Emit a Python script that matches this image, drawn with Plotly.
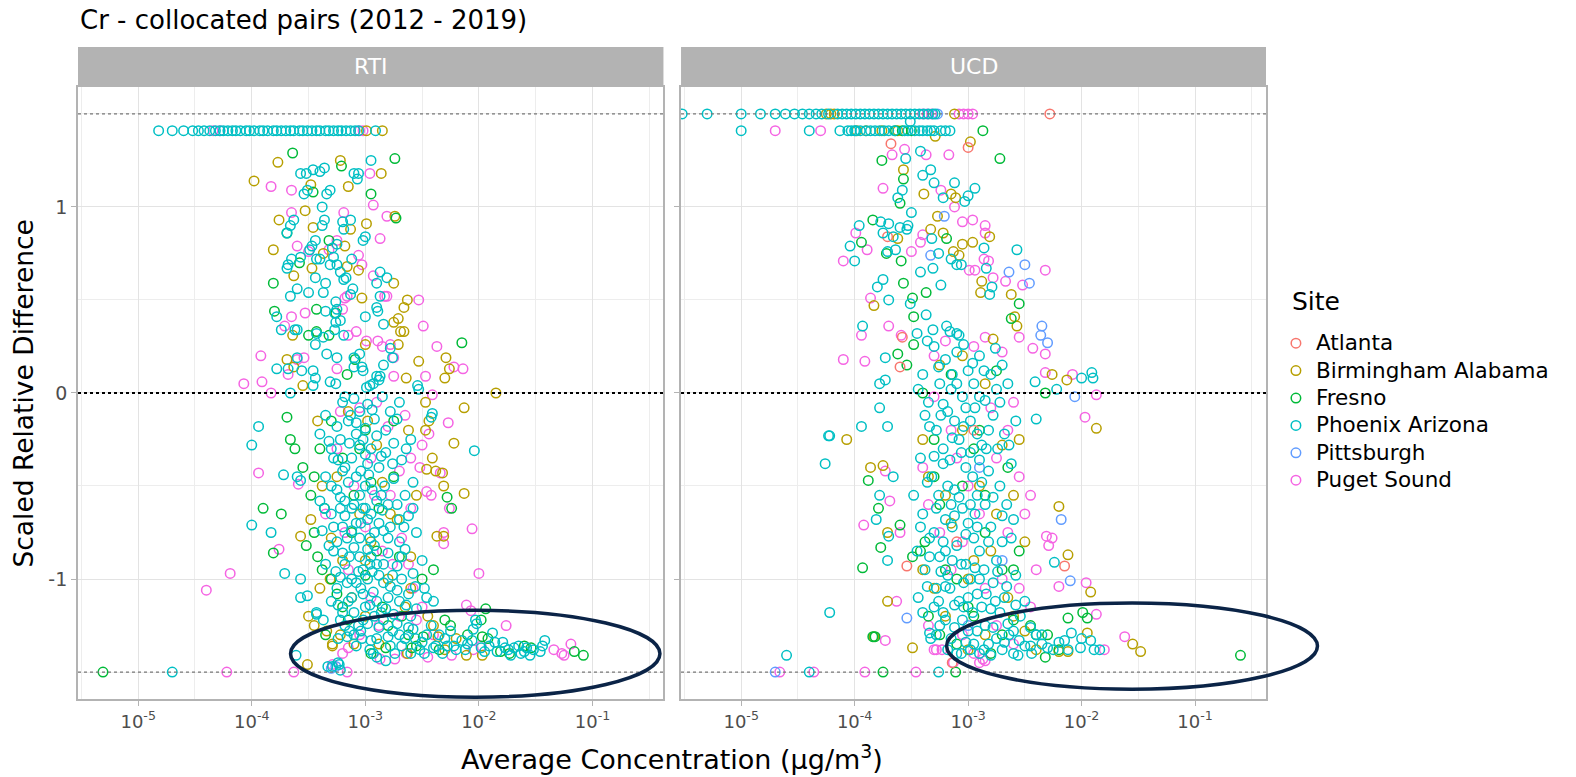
import plotly.graph_objects as go

# site colours (ggplot default hue palette)
SITES = ["Atlanta", "Birmingham Alabama", "Fresno", "Phoenix Arizona", "Pittsburgh", "Puget Sound"]
COLORS = {
    "Atlanta": "#F8766D",
    "Birmingham Alabama": "#B79F00",
    "Fresno": "#00BA38",
    "Phoenix Arizona": "#00BFC4",
    "Pittsburgh": "#619CFF",
    "Puget Sound": "#F564E3",
}

# points are (log10 of average concentration, scaled relative difference)

# ---------------- RTI ----------------
rti_phoenix = [
    (-4.82, 1.41), (-4.70, 1.41), (-4.60, 1.41), (-4.52, 1.41), (-4.47, 1.41), (-4.42, 1.41), (-4.37, 1.41),
    (-4.32, 1.41), (-4.28, 1.41), (-4.25, 1.41), (-4.21, 1.41), (-4.17, 1.41), (-4.14, 1.41), (-4.10, 1.41),
    (-4.05, 1.41), (-4.02, 1.41), (-3.98, 1.41), (-3.93, 1.41), (-3.90, 1.41), (-3.86, 1.41), (-3.81, 1.41),
    (-3.78, 1.41), (-3.74, 1.41), (-3.70, 1.41), (-3.66, 1.41), (-3.63, 1.41), (-3.58, 1.41), (-3.55, 1.41),
    (-3.51, 1.41), (-3.47, 1.41), (-3.43, 1.41), (-3.40, 1.41), (-3.35, 1.41), (-3.32, 1.41), (-3.28, 1.41),
    (-3.24, 1.41), (-3.21, 1.41), (-3.17, 1.41), (-3.13, 1.41), (-3.09, 1.41), (-3.06, 1.41), (-2.91, 1.41),
    (-2.95, 1.25), (-3.57, 1.18), (-3.52, 1.18), (-3.46, 1.20), (-3.40, 1.19), (-3.36, 1.21), (-3.10, 1.18),
    (-3.06, 1.18), (-3.07, 1.15), (-3.54, 1.07), (-3.51, 1.09), (-3.34, 1.07), (-3.31, 1.09), (-3.38, 1.00),
    (-3.63, 0.93), (-3.66, 0.90), (-3.69, 0.86), (-3.38, 0.90), (-3.36, 0.93), (-3.20, 0.92), (-3.13, 0.93),
    (-3.19, 0.88), (-3.44, 0.82), (-3.47, 0.79), (-3.49, 0.77), (-3.57, 0.73), (-3.65, 0.72), (-3.68, 0.69),
    (-3.69, 0.67), (-3.25, 0.80), (-3.29, 0.78), (-3.28, 0.73), (-3.31, 0.69), (-3.25, 0.69), (-3.02, 0.82),
    (-3.00, 0.84), (-3.12, 0.72), (-3.43, 0.72), (-3.40, 0.72), (-3.22, 0.65), (-3.19, 0.61), (-3.17, 0.62),
    (-3.44, 0.62), (-3.35, 0.59), (-2.87, 0.65), (-2.81, 0.62), (-2.90, 0.59), (-3.60, 0.56), (-3.66, 0.52),
    (-3.50, 0.54), (-3.37, 0.54), (-3.11, 0.56), (-3.13, 0.53), (-2.87, 0.52), (-3.26, 0.49), (-3.25, 0.45),
    (-3.35, 0.44), (-3.27, 0.43), (-2.90, 0.46), (-2.89, 0.44), (-3.00, 0.41), (-2.84, 0.37), (-3.78, 0.41),
    (-3.74, 0.34), (-3.62, 0.34), (-3.60, 0.34), (-3.26, 0.38), (-3.22, 0.39), (-3.27, 0.34), (-3.19, 0.31),
    (-3.43, 0.32), (-3.44, 0.26), (-3.37, 0.30), (-3.34, 0.21), (-3.25, 0.19), (-3.10, 0.19), (-3.05, 0.21),
    (-2.78, 0.24), (-2.76, 0.19), (-2.84, 0.15), (-2.90, 0.09), (-3.10, 0.14), (-3.03, 0.14), (-3.02, 0.12),
    (-3.78, 0.13), (-3.68, 0.13), (-3.60, 0.19), (-3.56, 0.12), (-3.46, 0.12), (-3.44, 0.08), (-3.46, 0.04),
    (-3.31, 0.06), (-3.26, 0.05), (-2.99, 0.03), (-2.96, 0.04), (-2.93, 0.05), (-2.88, 0.07), (-2.87, 0.09),
    (-2.54, 0.04), (-2.53, 0.02), (-3.66, 0.00), (-3.94, -0.18), (-4.00, -0.28), (-3.72, -0.44), (-3.60, -0.45),
    (-3.57, -0.47), (-4.00, -0.71), (-3.83, -0.75), (-3.71, -0.97), (-3.57, -1.00), (-3.57, -1.10), (-3.51, -1.09),
    (-3.43, -1.18), (-3.37, -1.22), (-2.04, -0.31), (-2.41, -0.11), (-2.42, -0.13),
    (-3.20, -0.05), (-3.10, -0.03), (-3.05, -0.10), (-2.98, -0.06), (-2.92, -0.14), (-2.85, -0.02), (-3.25, -0.18),
    (-3.15, -0.15), (-2.78, -0.10), (-2.70, -0.05), (-3.35, -0.12), (-3.00, -0.19), (-3.40, -0.22), (-3.30, -0.30),
    (-3.22, -0.25), (-3.12, -0.35), (-3.05, -0.28), (-2.98, -0.38), (-2.90, -0.23), (-2.82, -0.32), (-2.75, -0.27),
    (-2.68, -0.36), (-3.18, -0.40), (-2.95, -0.30), (-3.08, -0.22), (-2.60, -0.25), (-3.35, -0.45), (-3.25, -0.52),
    (-3.15, -0.48), (-3.05, -0.55), (-2.97, -0.44), (-2.90, -0.58), (-2.83, -0.50), (-2.75, -0.46), (-2.65, -0.55),
    (-3.10, -0.60), (-3.20, -0.42), (-3.00, -0.50), (-2.58, -0.48), (-3.40, -0.58), (-3.30, -0.65), (-3.20, -0.72),
    (-3.12, -0.62), (-3.05, -0.78), (-2.98, -0.68), (-2.92, -0.75), (-2.85, -0.63), (-2.78, -0.72), (-2.70, -0.80),
    (-2.62, -0.66), (-3.25, -0.80), (-3.00, -0.62), (-2.88, -0.70), (-3.38, -0.74), (-2.55, -0.75), (-3.28, -0.85),
    (-3.18, -0.92), (-3.10, -0.83), (-3.02, -0.95), (-2.95, -0.88), (-2.88, -0.98), (-2.80, -0.86), (-2.72, -0.93),
    (-2.65, -0.84), (-2.58, -0.97), (-3.22, -0.99), (-3.05, -0.88), (-2.92, -0.82), (-2.50, -0.90), (-3.35, -0.92),
    (-3.25, -1.05), (-3.15, -1.12), (-3.08, -1.02), (-3.00, -1.15), (-2.93, -1.07), (-2.86, -1.18), (-2.78, -1.04),
    (-2.70, -1.12), (-2.62, -1.08), (-2.55, -1.16), (-2.48, -1.05), (-3.20, -1.18), (-3.02, -1.08), (-2.90, -1.12),
    (-2.40, -1.12), (-3.30, -1.12), (-2.75, -1.19), (-3.18, -1.25), (-3.10, -1.30), (-3.02, -1.22), (-2.95, -1.33),
    (-2.88, -1.26), (-2.80, -1.31), (-2.72, -1.24), (-2.65, -1.32), (-2.58, -1.27), (-2.50, -1.34), (-2.42, -1.25),
    (-2.35, -1.30), (-2.25, -1.28), (-2.15, -1.33),
    (-3.13, -0.12), (-3.02, -0.25), (-2.88, -0.40), (-3.18, -0.58), (-2.95, -0.65), (-3.08, -0.70), (-2.80, -0.78),
    (-3.14, -0.88), (-2.98, -1.00), (-2.84, -0.92), (-3.12, -1.00), (-2.68, -1.00), (-3.06, -1.25), (-2.92, -1.20),
    (-2.76, -1.28), (-2.60, -1.20), (-3.28, -0.35), (-3.22, -0.62), (-3.16, -0.78), (-2.86, -0.55), (-2.72, -0.60),
    (-2.96, -0.92), (-3.04, -0.42), (-2.80, -1.10), (-3.10, -1.18), (-2.68, -1.36), (-2.96, -1.38), (-2.52, -1.38),
    (-2.32, -1.40), (-2.20, -1.38),
    (-3.18, -0.02), (-3.08, -0.16), (-2.94, -0.09), (-2.82, -0.20), (-2.72, -0.14), (-3.32, -0.26), (-3.24, -0.36),
    (-2.86, -0.34), (-2.64, -0.30), (-3.00, -0.33), (-3.14, -0.27), (-2.76, -0.38), (-3.30, -0.50), (-3.22, -0.56),
    (-3.08, -0.45), (-3.02, -0.62), (-2.94, -0.52), (-2.80, -0.60), (-2.70, -0.68), (-3.28, -0.72), (-3.12, -0.74),
    (-2.96, -0.78), (-2.84, -0.74), (-2.66, -0.72), (-3.36, -0.62), (-2.58, -0.62), (-3.18, -0.66), (-3.04, -0.70),
    (-3.32, -0.82), (-3.20, -0.86), (-3.06, -0.96), (-2.98, -0.84), (-2.90, -0.92), (-2.76, -0.98), (-2.68, -0.88),
    (-3.26, -0.96), (-3.16, -1.02), (-3.04, -1.05), (-2.96, -1.14), (-2.84, -1.02), (-2.72, -1.06), (-2.64, -1.14),
    (-3.24, -1.14), (-3.12, -1.10), (-2.94, -0.96), (-2.56, -1.04), (-2.46, -1.10), (-2.82, -1.16), (-3.22, -1.22),
    (-3.14, -1.28), (-3.04, -1.28), (-2.98, -1.24), (-2.90, -1.32), (-2.84, -1.22), (-2.78, -1.36), (-2.70, -1.30),
    (-2.62, -1.26), (-2.56, -1.32), (-2.46, -1.30), (-2.38, -1.36), (-2.30, -1.32), (-2.22, -1.36), (-2.12, -1.38),
    (-2.06, -1.33), (-1.98, -1.37), (-1.84, -1.39), (-1.74, -1.38), (-1.58, -1.37), (-2.90, -1.42), (-3.08, -1.36),
    (-2.74, -1.40), (-2.48, -1.40),
    (-1.42, -1.33), (-1.44, -1.36), (-1.46, -1.39), (-1.52, -1.38), (-1.60, -1.39), (-1.63, -1.40), (-1.69, -1.37),
    (-1.77, -1.37), (-1.86, -1.34), (-1.91, -1.36), (-1.79, -1.34), (-1.88, -1.29), (-2.03, -1.22), (-2.02, -1.24),
    (-2.05, -1.27), (-2.40, -1.37), (-2.28, -1.36), (-2.82, -1.44), (-2.93, -1.40), (-3.24, -1.32), (-3.16, -1.31),
    (-3.03, -1.32), (-3.61, -1.41), (-3.43, -1.19), (-2.10, -1.35), (-1.55, -1.41), (-1.72, -1.41), (-1.95, -1.39),
    (-1.65, -1.36), (-2.60, -1.40),
    (-4.70, -1.50), (-3.33, -1.47), (-3.23, -1.46), (-3.22, -1.49), (-3.24, -1.45), (-3.29, -1.47),
]
rti_puget = [
    (-4.34, 1.41), (-4.28, 1.41), (-3.05, 1.41), (-3.02, 1.41), (-2.96, 1.18), (-3.65, 1.09), (-3.83, 1.11),
    (-2.93, 1.01), (-3.65, 0.97), (-3.19, 0.97), (-2.81, 0.95), (-2.87, 0.83), (-3.60, 0.79), (-3.25, 0.82),
    (-3.32, 0.77), (-3.50, 0.76), (-3.06, 0.74), (-3.03, 0.69), (-2.93, 0.63), (-3.16, 0.52), (-3.18, 0.51),
    (-2.83, 0.52), (-2.81, 0.52), (-2.53, 0.50), (-3.65, 0.41), (-3.53, 0.43), (-3.20, 0.45), (-3.71, 0.36),
    (-2.49, 0.36), (-3.08, 0.33), (-3.15, 0.31), (-2.99, 0.28), (-2.89, 0.28), (-2.85, 0.25), (-2.78, 0.26),
    (-2.75, 0.19), (-2.37, 0.25), (-2.14, 0.13), (-2.22, 0.14), (-4.07, 0.05), (-3.68, 0.10), (-3.60, 0.18),
    (-3.54, 0.19), (-3.25, 0.13), (-2.75, 0.09), (-2.47, 0.09), (-3.92, 0.20), (-3.91, 0.06),
    (-3.83, 0.00), (-2.41, -0.01), (-3.94, -0.43), (-2.27, -0.16), (-3.59, -0.49), (-3.76, -0.84), (-4.19, -0.97),
    (-4.40, -1.06), (-3.15, -1.37), (-4.22, -1.50), (-3.63, -1.50), (-3.16, -1.50), (-3.29, -1.46), (-2.06, -0.73),
    (-2.00, -0.97), (-2.31, -0.81), (-2.31, -0.75), (-2.34, -0.43), (-2.46, -0.53), (-2.42, -0.55), (-2.26, -0.62),
    (-2.44, -0.22), (-2.50, -0.28),
    (-1.19, -1.35), (-1.27, -1.40), (-1.25, -1.41), (-1.34, -1.38), (-1.76, -1.25), (-1.98, -1.36), (-2.05, -1.38),
    (-2.24, -1.41), (-2.45, -1.42), (-2.74, -1.43), (-2.87, -1.43), (-2.11, -1.14), (-2.07, -1.17),
    (-3.05, -0.08), (-2.80, -0.18), (-2.65, -0.12), (-3.25, -0.30), (-2.95, -0.35), (-2.70, -0.42), (-3.10, -0.50),
    (-2.78, -0.55), (-2.60, -0.62), (-3.00, -0.72), (-2.68, -0.78), (-3.15, -0.95), (-2.85, -0.85), (-2.62, -0.92),
    (-2.95, -1.10), (-2.70, -1.20), (-3.05, -1.30), (-2.55, -1.22), (-2.40, -1.30), (-3.35, -0.65), (-2.52, -0.40),
    (-2.58, -1.05), (-3.22, -0.10), (-2.90, -0.05), (-2.60, -0.35), (-3.18, -0.75), (-2.76, -0.92), (-2.88, -1.25),
    (-2.50, -1.15), (-3.20, -1.40), (-2.64, -1.40), (-2.92, -0.55),
]
rti_birmingham = [
    (-2.99, 1.41), (-2.85, 1.41), (-3.98, 1.14), (-3.77, 1.24), (-3.22, 1.25), (-2.86, 1.18), (-3.48, 1.12),
    (-3.15, 1.11), (-3.53, 0.98), (-3.76, 0.93), (-3.46, 0.89), (-3.13, 0.88), (-2.99, 0.91), (-2.74, 0.95),
    (-3.81, 0.77), (-3.18, 0.79), (-3.37, 0.75), (-3.16, 0.68), (-3.06, 0.66), (-3.47, 0.67), (-3.63, 0.63),
    (-2.75, 0.59), (-3.03, 0.51), (-2.63, 0.50), (-2.66, 0.46), (-2.71, 0.40), (-2.75, 0.38), (-2.69, 0.33),
    (-2.66, 0.33), (-3.64, 0.31), (-3.00, 0.26), (-2.71, 0.26), (-2.53, 0.17), (-2.29, 0.19), (-2.26, 0.13),
    (-2.30, 0.08), (-2.64, 0.08), (-3.69, 0.18), (-3.63, 0.14), (-3.55, 0.04), (-1.85, 0.00),
    (-2.13, -0.08), (-2.22, -0.27), (-3.31, -1.00), (-3.45, -1.25), (-3.34, -1.28), (-3.29, -1.35), (-3.51, -1.46),
    (-2.13, -0.54), (-2.31, -0.50), (-2.32, -0.43), (-2.38, -0.42), (-2.41, -0.35), (-2.46, -0.41), (-2.37, -0.77),
    (-2.31, -0.77), (-2.47, -0.05), (-2.44, -0.15), (-2.47, -0.20), (-1.97, -1.41), (-2.11, -1.41), (-2.63, -1.40),
    (-2.36, -1.31), (-3.29, -1.36), (-3.50, -1.20), (-3.57, -0.77), (-3.48, -0.68),
    (-3.15, -0.10), (-2.90, -0.28), (-2.62, -0.20), (-3.25, -0.45), (-2.85, -0.48), (-2.55, -0.55), (-3.05, -0.65),
    (-2.72, -0.68), (-2.95, -0.80), (-2.60, -0.88), (-3.20, -0.90), (-2.80, -1.00), (-3.00, -1.20), (-2.65, -1.15),
    (-2.45, -1.20), (-3.10, -1.35), (-2.88, -1.35), (-2.20, -1.32), (-3.42, -0.15), (-3.38, -0.50), (-3.30, -0.78),
    (-3.40, -1.05), (-3.22, -1.30), (-3.00, -0.90), (-2.78, -0.65), (-2.60, -1.05), (-2.40, -1.25), (-2.30, -1.38),
    (-2.98, -0.15), (-3.12, -1.10),
]
rti_fresno = [
    (-3.64, 1.29), (-3.21, 1.22), (-2.74, 1.26), (-3.46, 1.08), (-2.95, 1.07), (-2.73, 0.94), (-3.69, 0.86),
    (-3.32, 0.82), (-3.58, 0.70), (-3.81, 0.59), (-3.80, 0.44), (-3.43, 0.45), (-3.26, 0.43), (-3.50, 0.31),
    (-3.43, 0.33), (-3.32, 0.31), (-2.15, 0.27), (-3.16, 0.10), (-3.09, 0.18),
    (-3.90, -0.62), (-3.74, -0.65), (-3.81, -0.86), (-2.28, -0.56), (-2.24, -0.62), (-1.08, -1.41), (-1.16, -1.39),
    (-1.60, -1.36), (-1.54, -1.37), (-1.73, -1.40), (-1.81, -1.39), (-1.92, -1.32), (-1.97, -1.31), (-1.94, -1.16),
    (-1.98, -1.22), (-2.59, -1.37), (-2.49, -1.31), (-2.95, -1.40), (-2.82, -1.37), (-5.31, -1.50),
    (-3.69, -0.13), (-3.66, -0.25), (-3.62, -0.30), (-3.55, -0.40), (-3.48, -0.55), (-3.45, -0.75), (-3.52, -0.82),
    (-3.30, -0.15), (-3.00, -0.20), (-2.75, -0.15), (-3.20, -0.35), (-2.88, -0.62), (-3.12, -0.75), (-2.70, -0.88),
    (-3.00, -0.98), (-3.25, -1.08), (-2.85, -1.15), (-2.50, -1.00), (-3.15, -1.22), (-2.62, -1.30), (-2.30, -1.22),
    (-2.10, -1.30), (-3.38, -0.95), (-2.95, -0.48), (-2.40, -0.95), (-3.40, -0.30), (-3.36, -0.62), (-3.42, -0.88),
    (-3.30, -1.00), (-3.20, -1.15), (-3.10, -0.55), (-2.90, -0.85), (-2.80, -1.25), (-2.68, -1.20), (-2.55, -1.36),
    (-2.35, -1.38), (-2.25, -1.25), (-3.35, -1.30), (-3.05, -0.30), (-2.75, -0.45), (-3.45, -0.45),
]
rti_pittsburgh = [(-3.30, -1.48), (-3.26, -1.47)]
rti_atlanta = []

# ---------------- UCD ----------------
ucd_phoenix = [
    (-5.52, 1.50), (-5.30, 1.50), (-5.00, 1.50), (-4.83, 1.50), (-4.70, 1.50), (-4.61, 1.50), (-4.53, 1.50),
    (-4.46, 1.50), (-4.40, 1.50), (-4.34, 1.50), (-4.29, 1.50), (-4.23, 1.50), (-4.15, 1.50), (-4.11, 1.50),
    (-4.07, 1.50), (-4.03, 1.50), (-3.99, 1.50), (-3.95, 1.50), (-3.91, 1.50), (-3.87, 1.50), (-3.83, 1.50),
    (-3.79, 1.50), (-3.75, 1.50), (-3.71, 1.50), (-3.67, 1.50), (-3.63, 1.50), (-3.59, 1.50), (-3.55, 1.50),
    (-3.51, 1.50), (-3.47, 1.50), (-3.43, 1.50), (-3.39, 1.50), (-3.35, 1.50), (-3.31, 1.50), (-3.29, 1.50),
    (-5.00, 1.41), (-4.40, 1.41), (-4.13, 1.41), (-4.06, 1.41), (-4.03, 1.41), (-3.99, 1.41), (-3.90, 1.41),
    (-3.86, 1.41), (-3.82, 1.41), (-3.65, 1.41), (-3.47, 1.41), (-3.43, 1.41), (-3.40, 1.41), (-3.36, 1.41),
    (-3.30, 1.41), (-3.24, 1.41), (-3.51, 1.46), (-4.00, 1.41), (-3.95, 1.41), (-3.78, 1.41), (-3.74, 1.41),
    (-3.70, 1.41), (-3.56, 1.41), (-3.53, 1.41), (-3.33, 1.41), (-3.20, 1.41), (-3.16, 1.41),
    (-3.42, 1.30), (-3.55, 1.26), (-3.33, 1.20), (-3.40, 1.17), (-3.30, 1.13), (-3.12, 1.13), (-3.58, 1.09),
    (-3.62, 1.05), (-3.22, 1.05), (-3.03, 1.03), (-3.00, 1.06), (-2.94, 1.10),
    (-3.96, 0.90), (-4.04, 0.79), (-4.00, 0.71), (-3.77, 0.92), (-3.70, 0.91), (-3.75, 0.86), (-3.66, 0.84),
    (-3.60, 0.89), (-3.54, 0.88), (-3.53, 0.90), (-3.64, 0.77), (-3.71, 0.76), (-3.50, 0.97), (-3.32, 0.83),
    (-3.26, 0.75), (-3.15, 0.72), (-3.10, 0.69), (-3.06, 0.69), (-3.31, 0.67), (-3.42, 0.65), (-3.24, 0.58),
    (-3.80, 0.57), (-3.75, 0.61), (-3.70, 0.50), (-2.86, 0.78), (-2.57, 0.77), (-2.79, 0.57), (-2.81, 0.53),
    (-2.84, 0.67), (-3.93, 0.36), (-3.51, 0.48), (-3.45, 0.32), (-3.37, 0.42), (-3.31, 0.34), (-3.19, 0.36),
    (-3.16, 0.33), (-3.10, 0.32), (-3.08, 0.31), (-3.73, 0.19), (-3.78, 0.05), (-3.73, 0.07), (-3.78, -0.08),
    (-3.71, -0.18), (-3.94, -0.18), (-4.22, -0.23), (-2.00, 0.08), (-1.91, 0.11), (-1.90, 0.08), (-2.22, 0.02),
    (-2.41, 0.06), (-2.40, -0.14),
    (-4.23, -0.23), (-4.26, -0.38), (-4.60, -1.41), (-4.22, -1.18), (-3.66, -0.45), (-3.78, -0.55),
    (-3.81, -0.68), (-3.70, -0.77), (-3.71, -0.90), (-3.34, -1.29), (-3.33, -1.32), (-2.24, -0.91),
    (-2.09, -1.29), (-2.01, -1.37), (-1.92, -1.33), (-1.84, -1.38), (-1.89, -1.38), (-2.00, -1.32), (-2.15, -1.33),
    (-2.25, -1.38), (-2.35, -1.30), (-2.45, -1.36), (-4.40, -1.50), (-3.26, -1.50),
    (-3.30, 0.25), (-3.20, 0.18), (-3.10, 0.22), (-3.00, 0.12), (-2.90, 0.20), (-2.80, 0.10), (-2.70, 0.15),
    (-3.25, 0.05), (-3.15, 0.02), (-3.05, -0.02), (-2.95, 0.05), (-2.85, -0.04), (-2.75, 0.02), (-2.65, 0.05),
    (-3.40, 0.10), (-3.35, -0.05), (-3.38, -0.12), (-3.28, -0.20), (-3.18, -0.10), (-3.08, -0.25), (-2.98, -0.15),
    (-2.88, -0.28), (-2.78, -0.12), (-2.68, -0.22), (-3.22, -0.30), (-3.02, -0.08), (-2.92, -0.22), (-2.58, -0.15),
    (-3.42, -0.35), (-3.32, -0.45), (-3.22, -0.38), (-3.12, -0.52), (-3.02, -0.40), (-2.92, -0.55), (-2.82, -0.42),
    (-2.72, -0.50), (-2.62, -0.38), (-3.15, -0.60), (-2.98, -0.32), (-2.85, -0.60), (-3.48, -0.55), (-3.40, -0.65),
    (-3.30, -0.75), (-3.20, -0.68), (-3.10, -0.82), (-3.00, -0.70), (-2.90, -0.85), (-2.80, -0.72), (-2.70, -0.80),
    (-2.60, -0.68), (-3.25, -0.88), (-3.05, -0.62), (-2.95, -0.78), (-2.75, -0.90), (-3.45, -0.85), (-3.38, -0.95),
    (-3.28, -1.05), (-3.18, -0.98), (-3.08, -1.12), (-2.98, -1.00), (-2.88, -1.15), (-2.78, -1.02), (-2.68, -1.10),
    (-2.58, -0.98), (-3.22, -1.18), (-3.02, -0.92), (-2.92, -1.08), (-2.72, -1.18), (-2.50, -1.12), (-3.44, -1.10),
    (-3.25, -1.25), (-3.15, -1.32), (-3.05, -1.22), (-2.95, -1.35), (-2.85, -1.25), (-2.75, -1.32), (-2.65, -1.24),
    (-2.55, -1.33), (-2.45, -1.26), (-3.10, -1.40), (-2.90, -1.40), (-2.70, -1.38), (-2.60, -1.40), (-2.35, -1.35),
    (-3.12, -0.15), (-2.96, -0.45), (-3.06, -0.92), (-2.86, -0.95), (-3.16, -1.05), (-2.82, -1.35), (-3.00, -1.28),
    (-2.66, -0.60), (-3.26, -0.55), (-2.94, -0.65), (-3.14, -0.72), (-2.76, -1.12), (-3.04, -1.15), (-2.84, -0.30),
    (-3.20, -0.85), (-2.64, -1.30), (-3.30, -1.15), (-2.54, -1.20), (-3.18, -1.38), (-2.98, -1.38),
    (-3.36, 0.28), (-3.26, 0.14), (-3.14, 0.10), (-3.04, 0.26), (-2.96, 0.16), (-2.86, 0.12), (-2.76, 0.24),
    (-3.10, 0.05), (-2.90, -0.02), (-3.44, 0.02), (-2.72, -0.05), (-3.22, -0.06), (-3.34, -0.18), (-3.24, -0.12),
    (-3.14, -0.24), (-3.04, -0.18), (-2.94, -0.08), (-2.82, -0.20), (-2.74, -0.30), (-3.30, -0.34), (-3.16, -0.36),
    (-3.06, -0.32), (-2.90, -0.36), (-2.64, -0.28), (-3.36, -0.48), (-3.28, -0.62), (-3.18, -0.50), (-3.08, -0.56),
    (-2.98, -0.60), (-2.88, -0.48), (-2.78, -0.56), (-3.34, -0.78), (-3.22, -0.80), (-3.12, -0.66), (-3.02, -0.76),
    (-2.92, -0.72), (-2.82, -0.80), (-2.70, -0.66), (-3.42, -0.72), (-2.62, -0.78), (-3.34, -0.88), (-3.24, -0.96),
    (-3.14, -0.90), (-3.04, -1.02), (-2.94, -0.94), (-2.84, -1.08), (-2.74, -0.96), (-3.36, -1.04), (-3.26, -1.12),
    (-3.12, -1.14), (-3.00, -1.10), (-2.90, -1.00), (-2.80, -1.16), (-2.66, -1.04), (-2.58, -1.14), (-3.40, -1.18),
    (-2.96, -1.18), (-3.20, -1.04), (-3.28, -1.30), (-3.20, -1.22), (-3.12, -1.26), (-3.02, -1.34), (-2.92, -1.28),
    (-2.86, -1.38), (-2.78, -1.26), (-2.68, -1.34), (-2.60, -1.28), (-2.50, -1.36), (-2.40, -1.30), (-2.30, -1.37),
    (-2.20, -1.34), (-2.12, -1.38), (-3.06, -1.40), (-2.80, -1.41), (-2.56, -1.41), (-2.44, -1.40),
]
ucd_puget = [
    (-3.40, 1.50), (-3.36, 1.50), (-3.32, 1.50), (-3.08, 1.50), (-3.04, 1.50), (-3.00, 1.50), (-2.96, 1.50),
    (-4.70, 1.41), (-4.30, 1.41), (-3.56, 1.31), (-3.67, 1.28), (-3.37, 1.28), (-3.17, 1.28), (-3.75, 1.10),
    (-3.24, 1.09), (-3.12, 1.00), (-3.99, 0.86), (-4.10, 0.71), (-3.89, 0.77), (-3.40, 0.85), (-3.42, 0.81),
    (-3.50, 0.76), (-3.05, 0.92), (-2.96, 0.93), (-2.85, 0.90), (-2.85, 0.86), (-2.86, 0.72), (-2.82, 0.71),
    (-2.78, 0.62), (-2.99, 0.66), (-2.94, 0.66), (-2.67, 0.60), (-2.52, 0.58), (-2.32, 0.66), (-3.86, 0.51),
    (-3.94, 0.31), (-3.70, 0.36), (-3.59, 0.31), (-4.10, 0.18), (-3.91, 0.17), (-2.55, 0.30), (-2.43, 0.24),
    (-2.32, 0.21), (-2.32, 0.11), (-2.08, 0.10), (-1.97, -0.13), (-1.87, -0.01),
    (-3.73, -0.42), (-3.69, -0.58), (-3.92, -0.71), (-3.63, -1.12), (-3.73, -1.33), (-3.60, -0.75), (-3.35, -1.25),
    (-3.28, -1.38), (-3.23, -1.38), (-2.20, -1.04), (-1.96, -1.02), (-1.87, -1.19), (-2.31, -0.77), (-2.29, -0.82),
    (-2.26, -0.78), (-1.62, -1.31), (-1.80, -1.38),
    (-4.66, -1.50), (-4.36, -1.50), (-3.91, -1.50), (-3.46, -1.50), (-3.13, -1.45), (-2.87, -1.43), (-2.90, -1.45),
    (-2.85, -1.44),
    (-3.20, 0.28), (-2.95, 0.25), (-2.70, 0.22), (-3.30, -0.02), (-2.80, -0.08), (-2.60, -0.05), (-3.10, -0.35),
    (-2.75, -0.35), (-2.55, -0.45), (-3.35, -0.60), (-2.90, -0.65), (-2.65, -0.75), (-3.15, -0.95), (-2.85, -1.05),
    (-2.55, -1.05), (-3.05, -1.30), (-2.75, -1.25), (-2.45, -1.15), (-3.25, -0.75), (-2.50, -0.65), (-2.40, -0.95),
    (-3.00, -0.50), (-3.30, 0.20), (-2.85, 0.30), (-3.15, -0.20), (-2.65, -0.20), (-3.40, -0.40), (-3.05, -0.80),
    (-2.70, -1.00), (-2.95, -1.40), (-2.60, -1.35), (-3.30, -1.38), (-2.45, -0.55),
]
ucd_birmingham = [
    (-4.25, 1.50), (-4.21, 1.50), (-4.18, 1.50), (-3.12, 1.50), (-3.98, 1.41), (-3.90, 1.41), (-3.76, 1.41),
    (-3.62, 1.41), (-3.29, 1.38), (-2.98, 1.35), (-3.57, 1.20), (-3.39, 1.07), (-3.15, 1.07), (-3.11, 1.05),
    (-3.62, 0.83), (-3.27, 0.95), (-3.33, 0.88), (-3.22, 0.86), (-2.96, 0.81), (-3.05, 0.80), (-3.13, 0.76),
    (-3.08, 0.74), (-2.81, 0.84), (-2.88, 0.60), (-2.89, 0.54), (-2.62, 0.53), (-2.59, 0.41), (-2.57, 0.36),
    (-2.78, 0.29), (-3.83, 0.47), (-2.26, 0.10), (-2.13, 0.07), (-1.87, -0.19),
    (-4.07, -0.25), (-3.86, -0.40), (-3.75, -0.39), (-3.71, -0.75), (-3.71, -1.12), (-3.49, -1.37), (-3.83, -1.31),
    (-1.92, -1.07), (-2.12, -0.87), (-2.20, -0.61), (-1.55, -1.35), (-1.48, -1.39), (-2.20, -1.39), (-2.12, -1.39),
    (-1.95, -1.29),
    (-3.25, 0.15), (-2.85, 0.05), (-3.05, -0.20), (-2.70, -0.28), (-3.35, -0.45), (-2.90, -0.50), (-2.60, -0.55),
    (-3.15, -0.70), (-2.80, -0.85), (-3.00, -1.00), (-2.65, -1.10), (-3.20, -1.20), (-2.85, -1.30), (-2.50, -1.28),
    (-3.40, -0.95), (-2.55, -0.25), (-3.05, 0.20), (-3.40, -0.25), (-3.20, -0.55), (-2.95, -0.90), (-2.75, -0.65),
    (-2.60, -1.20), (-3.30, -1.05), (-2.40, -1.38), (-3.00, -1.38), (-2.50, -0.80),
]
ucd_fresno = [
    (-3.64, 1.41), (-3.58, 1.41), (-3.50, 1.41), (-2.87, 1.41), (-3.76, 1.25), (-2.72, 1.26), (-3.57, 1.15),
    (-3.60, 1.02), (-3.84, 0.93), (-3.94, 0.81), (-3.72, 0.75), (-3.59, 0.71), (-3.57, 0.59), (-3.37, 0.54),
    (-3.19, 0.83), (-3.49, 0.51), (-3.48, 0.41), (-2.55, 0.48), (-2.62, 0.40), (-3.48, 0.26), (-3.62, 0.21),
    (-3.54, 0.15), (-2.32, 0.00),
    (-3.88, -0.47), (-3.79, -0.62), (-3.77, -0.83), (-3.93, -0.94), (-3.60, -0.71), (-3.49, -0.88), (-3.42, -0.85),
    (-3.84, -1.31), (-3.82, -1.31), (-1.99, -1.18), (-1.95, -1.21), (-2.12, -1.21), (-2.32, -1.42), (-0.60, -1.41),
    (-3.75, -1.50), (-3.11, -1.50),
    (-3.15, 0.10), (-2.75, 0.12), (-3.30, -0.25), (-2.95, -0.30), (-2.65, -0.40), (-3.25, -0.60), (-2.85, -0.75),
    (-2.55, -0.85), (-3.10, -1.00), (-2.70, -0.95), (-2.95, -1.20), (-2.60, -1.22), (-3.35, -1.20), (-2.40, -1.30),
    (-3.05, -0.50), (-2.80, -1.40), (-3.40, 0.00), (-3.30, -0.45), (-3.38, -0.80), (-3.20, -0.95), (-3.00, -1.15),
    (-2.70, -1.30), (-2.90, -0.20), (-2.60, -0.95), (-2.45, -1.25), (-2.30, -1.30), (-3.10, -1.35), (-2.85, -0.55),
    (-3.25, -1.30), (-2.20, -1.38),
]
ucd_pittsburgh = [
    (-3.27, 1.50), (-3.21, 0.95), (-3.33, 0.74), (-2.64, 0.65), (-2.50, 0.69), (-2.46, 0.59), (-2.35, 0.36),
    (-2.36, 0.31), (-2.30, 0.27), (-2.06, -0.02), (-3.54, -1.21), (-2.18, -0.68), (-2.10, -1.01), (-4.70, -1.50),
    (-2.90, -0.40), (-2.70, -0.90), (-3.00, -1.25),
]
ucd_atlanta = [
    (-2.28, 1.50), (-3.68, 1.34), (-3.00, 1.32), (-3.71, 0.84), (-3.58, 0.30), (-3.60, 0.14), (-3.54, -0.93),
    (-2.15, -0.93), (-3.14, -1.45), (-2.95, -0.20), (-3.10, -0.80),
]

panels = {
    "RTI": {
        "Atlanta": rti_atlanta, "Birmingham Alabama": rti_birmingham, "Fresno": rti_fresno,
        "Phoenix Arizona": rti_phoenix, "Pittsburgh": rti_pittsburgh, "Puget Sound": rti_puget,
    },
    "UCD": {
        "Atlanta": ucd_atlanta, "Birmingham Alabama": ucd_birmingham, "Fresno": ucd_fresno,
        "Phoenix Arizona": ucd_phoenix, "Pittsburgh": ucd_pittsburgh, "Puget Sound": ucd_puget,
    },
}

# order the points are drawn in (Phoenix ends up on top)
draw_order = ["Puget Sound", "Birmingham Alabama", "Fresno", "Atlanta", "Pittsburgh", "Phoenix Arizona"]

x_ticks = [1e-5, 1e-4, 1e-3, 1e-2, 1e-1]
x_ticktext = ["10<sup>-5</sup>", "10<sup>-4</sup>", "10<sup>-3</sup>", "10<sup>-2</sup>", "10<sup>-1</sup>"]
x_minor = [3.162e-6, 3.162e-5, 3.162e-4, 3.162e-3, 3.162e-2, 3.162e-1]
y_ticks = [-1, 0, 1]
y_ticktext = ["-1", "0", "1"]
y_minor = [-1.5, -0.5, 0.5, 1.5]
ref_lines = [-1.5, 1.5]

FONT = "DejaVu Sans"
GRID = "#E3E3E3"
BORDER = "#B3B3B3"
NAVY = "#0B2447"

fig = go.Figure()

shown = set()
for i, (panel, data) in enumerate(panels.items()):
    xa = "x" if i == 0 else "x2"
    ya = "y" if i == 0 else "y2"
    for site in draw_order:
        pts = data[site]
        if not pts:
            continue
        fig.add_trace(go.Scatter(
            x=[10 ** p[0] for p in pts],
            y=[p[1] for p in pts],
            mode="markers",
            # legend font is kept small so the rows sit close together; the label itself is bigger
            name=f'<span style="font-size:21.5px">{site}</span>',
            legendgroup=site,
            legendrank=SITES.index(site) + 1,
            showlegend=site not in shown,
            marker=dict(symbol="circle-open", size=9.5, color=COLORS[site], line=dict(width=1.5)),
            xaxis=xa, yaxis=ya,
            hoverinfo="skip",
        ))
        shown.add(site)

Y_TOP = 0.9387

axis_common = dict(
    type="log",
    range=[-5.53, -0.375],
    tickvals=x_ticks,
    ticktext=x_ticktext,
    ticks="outside", ticklen=5, tickcolor=BORDER, tickwidth=1.3,
    tickfont=dict(family=FONT, size=18, color="#4D4D4D"),
    showgrid=True, gridcolor=GRID, gridwidth=1.1,
    minor=dict(tickvals=x_minor, showgrid=True, gridcolor="#EDEDED", gridwidth=0.8, ticks=""),
    showline=True, linecolor=BORDER, linewidth=1.8, mirror=True,
    zeroline=False, automargin=False,
)
yaxis_common = dict(
    range=[-1.645, 1.645],
    tickvals=y_ticks,
    ticktext=y_ticktext,
    ticks="outside", ticklen=5, tickcolor=BORDER, tickwidth=1.3,
    tickfont=dict(family=FONT, size=19, color="#4D4D4D"),
    showgrid=True, gridcolor=GRID, gridwidth=1.1,
    minor=dict(tickvals=y_minor, showgrid=True, gridcolor="#EDEDED", gridwidth=0.8, ticks=""),
    showline=True, linecolor=BORDER, linewidth=1.8, mirror=True,
    zeroline=False, automargin=False,
    domain=[0, Y_TOP],
)

fig.update_layout(
    width=1576, height=777,
    margin=dict(l=78, r=310, t=47, b=78, autoexpand=False),
    paper_bgcolor="white", plot_bgcolor="white",
    font=dict(family=FONT, color="black"),
    xaxis=dict(axis_common, domain=[0, 0.4928], anchor="y"),
    xaxis2=dict(axis_common, domain=[0.5076, 1], matches="x", anchor="y2"),
    yaxis=dict(yaxis_common, anchor="x"),
    yaxis2=dict(yaxis_common, anchor="x2", matches="y", showticklabels=False),
    showlegend=True,
    legend=dict(
        font=dict(family=FONT, size=18),
        xref="container", yref="container",
        x=0.8096, xanchor="left", y=0.5817, yanchor="top",
        tracegroupgap=1,
        bgcolor="rgba(0,0,0,0)",
    ),
)

shapes = []
for i, panel in enumerate(panels):
    xr = "x" if i == 0 else "x2"
    yr = "y" if i == 0 else "y2"
    # strip header
    shapes.append(dict(type="rect", xref=f"{xr} domain", yref="paper", x0=0, x1=1, y0=Y_TOP + 0.002, y1=1,
                       fillcolor="#B3B3B3", line=dict(width=0), layer="below"))
    for yv in ref_lines:
        shapes.append(dict(type="line", xref=f"{xr} domain", yref=yr, x0=0, x1=1, y0=yv, y1=yv,
                           line=dict(color="#777777", width=1.2, dash="dot"), layer="above"))
    shapes.append(dict(type="line", xref=f"{xr} domain", yref=yr, x0=0, x1=1, y0=0, y1=0,
                       line=dict(color="black", width=1.8, dash="dot"), layer="above"))
    fig.add_annotation(text=panel, xref=f"{xr} domain", yref="paper", x=0.5, y=(Y_TOP + 1) / 2,
                       xanchor="center", yanchor="middle",
                       showarrow=False, font=dict(family=FONT, size=22, color="white"))

# highlighted regions
shapes.append(dict(type="circle", xref="x domain", yref="y domain", x0=0.363, x1=0.994, y0=0.003, y1=0.145,
                   line=dict(color=NAVY, width=3.5), layer="above"))
shapes.append(dict(type="circle", xref="x2 domain", yref="y2 domain", x0=0.454, x1=1.088, y0=0.016, y1=0.157,
                   line=dict(color=NAVY, width=3.5), layer="above"))
fig.update_layout(shapes=shapes)

fig.add_annotation(text="Cr - collocated pairs (2012 - 2019)", xref="paper", yref="paper", x=0, y=1.041,
                   xanchor="left", yanchor="middle", showarrow=False, font=dict(family=FONT, size=26, color="black"))
fig.add_annotation(text="Average Concentration (μg/m<sup>3</sup>)", xref="paper", yref="paper", x=0.5, y=-0.089,
                   xanchor="center", yanchor="middle", showarrow=False, font=dict(family=FONT, size=27, color="black"))
fig.add_annotation(text="Scaled Relative Difference", xref="paper", yref="paper", x=-0.046, y=0.469,
                   textangle=-90, xanchor="center", yanchor="middle", showarrow=False,
                   font=dict(family=FONT, size=26.5, color="black"))
# legend heading
fig.add_annotation(text="Site", xref="paper", yref="paper", x=1.0202, y=0.6089,
                   xanchor="left", yanchor="middle", showarrow=False, font=dict(family=FONT, size=25, color="black"))

# drop the page's default body margin so the figure sits at the window's corner
fig.write_html("out.html", config={"displayModeBar": False},
               post_script="document.body.style.margin='0';document.body.style.overflow='hidden';")
